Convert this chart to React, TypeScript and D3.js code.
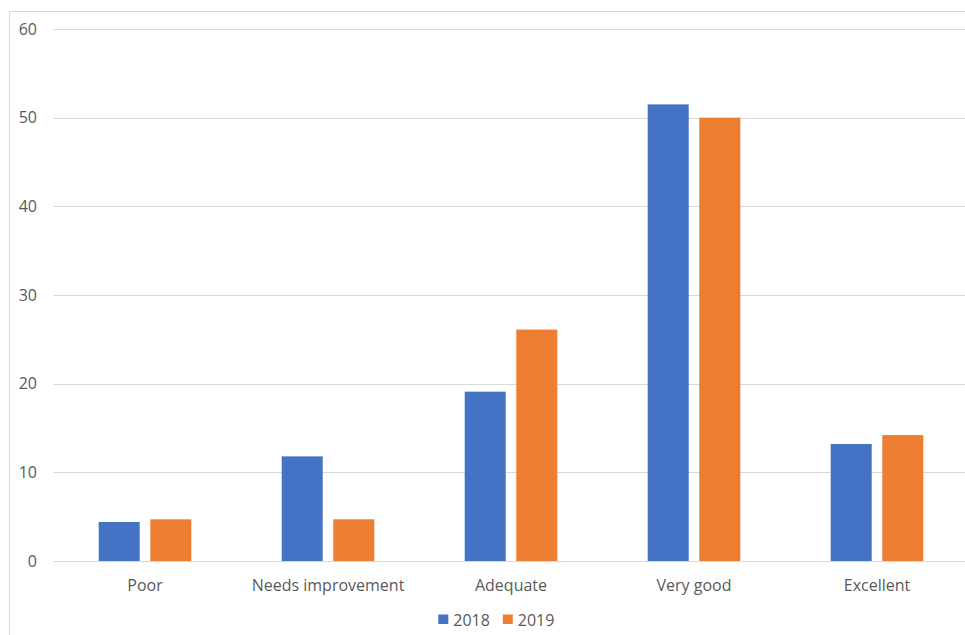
import React from "react";
import * as d3 from "d3";

const categories = ["Poor", "Needs improvement", "Adequate", "Very good", "Excellent"];
const seriesNames = ["2018", "2019"];
const values2018 = [4.4, 11.8, 19.1, 51.5, 13.2];
const values2019 = [4.7, 4.7, 26.1, 50.0, 14.2];
const yTicks = [0, 10, 20, 30, 40, 50, 60];
const colors = ["#4472C4", "#ED7D31"];

const W = 965;
const H = 635;
const plot = { left: 53.5, right: 968.5, top: 29, bottom: 561 };
const FONT = "'Open Sans', 'Noto Sans', sans-serif";
const GROUP = 92.6;

export default function App() {
  const x = d3
    .scaleBand<string>()
    .domain(categories)
    .range([plot.left, plot.right])
    .paddingInner(0)
    .paddingOuter(0);
  const y = d3.scaleLinear().domain([0, 60]).range([plot.bottom, plot.top]);
  const inner = d3
    .scaleBand<string>()
    .domain(seriesNames)
    .range([0, GROUP])
    .paddingInner(0.205);
  const groupOffset = (x.bandwidth() - GROUP) / 2;
  const series = [values2018, values2019];

  return (
    <svg
      width={W}
      height={H}
      style={{ position: "absolute", left: 0, top: 0, background: "#fff" }}
    >
      <rect x={0} y={0} width={W} height={H} fill="#fff" />
      {/* chart frame */}
      <rect x={9.5} y={11.5} width={W + 20} height={H + 20} fill="none" stroke="#D9D9D9" strokeWidth={1} />
      {/* gridlines and y labels */}
      {yTicks.map((t) => (
        <g key={t}>
          <line
            x1={plot.left}
            x2={W}
            y1={Math.round(y(t)) + 0.5}
            y2={Math.round(y(t)) + 0.5}
            stroke="#D9D9D9"
            strokeWidth={1}
          />
          <text
            x={37}
            y={y(t)}
            dy="0.35em"
            textAnchor="end"
            fontFamily={FONT}
            fontSize={16}
            fill="#595959"
          >
            {t}
          </text>
        </g>
      ))}
      {/* bars */}
      {categories.map((c, i) => (
        <g key={c} transform={`translate(${(x(c) ?? 0) + groupOffset},0)`}>
          {series.map((vals, s) => (
            <rect
              key={s}
              x={inner(seriesNames[s])}
              y={y(vals[i])}
              width={inner.bandwidth()}
              height={y(0) - y(vals[i])}
              fill={colors[s]}
            />
          ))}
        </g>
      ))}
      {/* category labels */}
      {categories.map((c) => (
        <text
          key={c}
          x={(x(c) ?? 0) + x.bandwidth() / 2}
          y={590.5}
          textAnchor="middle"
          fontFamily={FONT}
          fontSize={16}
          fill="#595959"
        >
          {c}
        </text>
      ))}
      {/* legend */}
      {seriesNames.map((n, s) => (
        <g key={n} transform={`translate(${438.3 + s * 64.5},0)`}>
          <rect x={0} y={614.5} width={10} height={9.5} fill={colors[s]} />
          <text x={15} y={625.5} fontFamily={FONT} fontSize={16} fill="#595959">
            {n}
          </text>
        </g>
      ))}
    </svg>
  );
}
